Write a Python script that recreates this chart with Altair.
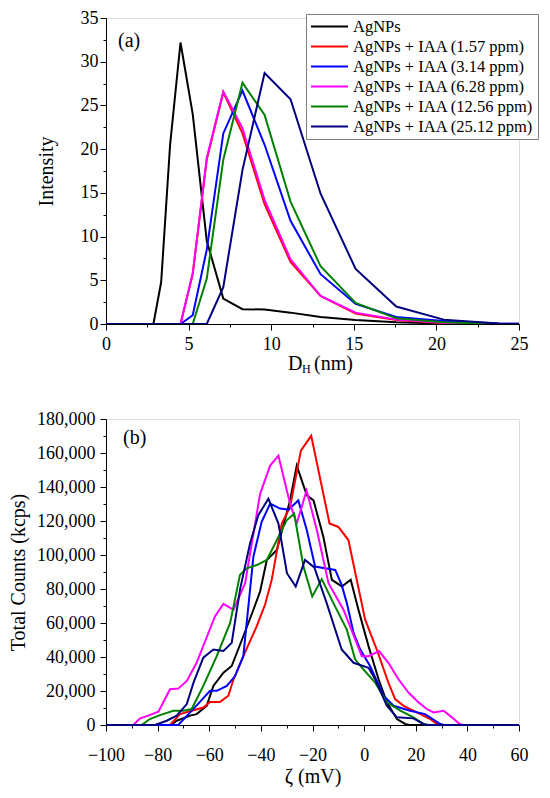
import altair as alt
import pandas as pd

FONT = "Liberation Serif"

series_names = [
    "AgNPs",
    "AgNPs + IAA (1.57 ppm)",
    "AgNPs + IAA (3.14 ppm)",
    "AgNPs + IAA (6.28 ppm)",
    "AgNPs + IAA (12.56 ppm)",
    "AgNPs + IAA (25.12 ppm)",
]
series_colors = ["#000000", "#FF0000", "#0000FF", "#FF00FF", "#008000", "#000080"]

# ---------- (a) size distribution ----------
dh_nm = [0, 2.87, 3.34, 3.88, 4.51, 5.25, 6.10, 7.10, 8.26, 9.60, 11.17, 12.99, 15.11, 17.57, 20.44, 23.77, 27.65]
int_agnps = [0, 0, 4.8, 20.5, 32.2, 24.0, 9.5, 2.9, 1.7, 1.65, 1.3, 0.8, 0.45, 0.2, 0.05, 0, 0]
int_157 = [0, 0, 0, 0, 0, 5.7, 18.8, 26.5, 21.8, 13.7, 7.1, 3.2, 1.2, 0.45, 0.1, 0, 0]
int_314 = [0, 0, 0, 0, 0, 1.0, 8.5, 21.8, 26.7, 20.5, 11.8, 5.7, 2.3, 0.8, 0.35, 0.05, 0]
int_628 = [0, 0, 0, 0, 0, 5.8, 19.0, 26.6, 22.4, 14.2, 7.4, 3.2, 1.3, 0.5, 0.15, 0, 0]
int_1256 = [0, 0, 0, 0, 0, 0, 5.2, 18.8, 27.6, 23.9, 14.0, 6.6, 2.4, 0.65, 0.2, 0, 0]
int_2512 = [0, 0, 0, 0, 0, 0, 0, 4.2, 17.6, 28.7, 25.7, 14.9, 6.3, 2.0, 0.5, 0.05, 0]

# ---------- (b) zeta potential distribution ----------
z_agnps_x = [-100, -75, -72.6, -67.4, -64.9, -61, -58.4, -54.5, -51.3, -46.8, -42.9, -40.3, -37.7, -33.8, -28.7,
             -26.1, -22.2, -19.6, -15.8, -12.5, -8.6, -5.2, -2.2, 1.7, 5.6, 8.8, 12.7, 15.9, 17.5, 60]
z_agnps_y = [0, 0, 2500, 5500, 6400, 11300, 23000, 30800, 34700, 52200, 67800, 78500, 97000, 102900, 132100,
             152600, 135100, 132100, 110700, 85400, 81500, 85400, 67800, 46400, 26900, 13300, 3500, 600, 0, 0]

z_157_x = [-100, -75.2, -71.3, -66.8, -62.3, -59.7, -55.8, -52.6, -50.6, -46.8, -41.6, -38.4, -35.8, -31.9, -28.7,
           -24.5, -20.5, -13.4, -10.0, -6.1, 0.4, 4.9, 9.4, 12.0, 15.3, 20.4, 25.6, 28.2, 30, 60]
z_157_y = [0, 0, 6400, 8400, 10300, 13600, 13600, 17200, 26900, 40500, 58100, 70700, 85400, 118500, 128200,
           161400, 170100, 118500, 116500, 108800, 62000, 44400, 24900, 15200, 11300, 7400, 3500, 600, 0, 0]

z_314_x = [-100, -72, -67.4, -63.6, -59.7, -57.1, -53.2, -50, -46.8, -42.9, -39.7, -36.4, -32.6, -29.3, -25.5,
           -22.2, -19, -11.2, -8.7, -6.7, -4.1, -1.5, 2.3, 7.5, 11.4, 17.8, 23.6, 29.5, 31, 60]
z_314_y = [0, 0, 7400, 13600, 20100, 20100, 23000, 28800, 40500, 99000, 119500, 130200, 127300, 126700, 132100,
           114600, 93200, 91200, 82400, 71700, 54200, 44400, 34700, 17200, 11300, 8400, 6400, 600, 0, 0]

z_628_x = [-100, -89.4, -86.8, -83.6, -79.7, -75.2, -72, -68.7, -64.9, -57.8, -54.5, -50.6, -46.1, -40.3, -36.4,
           -33.2, -28.7, -26.1, -22.3, -18.3, -13.8, -8, -0.9, 1.7, 5.8, 9.4, 13.3, 17.2, 21.1, 24.3,
           26.9, 30.8, 34, 37, 38.5, 60]
z_628_y = [0, 0, 3900, 5500, 7800, 21000, 21400, 25900, 36600, 63900, 71300, 67800, 83400, 136000, 152600,
           158400, 130200, 118500, 138000, 114600, 83400, 67800, 40500, 40500, 43500, 36600, 26900, 19100, 13300, 9400,
           7400, 8400, 4500, 600, 0, 0]

z_1256_x = [-100, -86.2, -83, -79.1, -73.9, -70, -66.8, -62.3, -57.1, -51.9, -48.1, -45.5, -41.6, -37.7, -33.8,
            -30, -27.1, -23.5, -20.1, -16.4, -11.9, -6.7, -3.5, -0.3, 4.3, 8.8, 14, 19.1, 23, 25, 60]
z_1256_y = [0, 0, 3500, 5800, 8400, 8400, 9400, 23000, 40500, 60000, 88300, 92200, 94100, 97100, 108800,
            120400, 124300, 93200, 75600, 85800, 71700, 56100, 38600, 32700, 24900, 13300, 8400, 4500, 600, 0, 0]

z_2512_x = [-100, -81, -76.5, -72.6, -68.7, -66.1, -62.3, -58.4, -54.5, -51.3, -48.1, -44.2, -41, -37.1, -33.2,
            -29.9, -26.5, -22.9, -19.3, -14.5, -8.7, -4.1, 1.7, 4.3, 8.8, 12.7, 19.1, 23, 24.5, 60]
z_2512_y = [0, 0, 2500, 5500, 12300, 24900, 39600, 44400, 43500, 48300, 79500, 106800, 123400, 133100, 118500,
            89300, 81500, 97100, 92700, 71700, 44400, 36600, 33700, 26900, 11300, 4500, 3900, 600, 0, 0]

# tick values
a_x_ticks = [0, 2.5, 5, 7.5, 10, 12.5, 15, 17.5, 20, 22.5, 25]
a_y_ticks = [0, 2.5, 5, 7.5, 10, 12.5, 15, 17.5, 20, 22.5, 25, 27.5, 30, 32.5, 35]
b_x_ticks = [-100, -90, -80, -70, -60, -50, -40, -30, -20, -10, 0, 10, 20, 30, 40, 50, 60]
b_y_ticks = [0, 10000, 20000, 30000, 40000, 50000, 60000, 70000, 80000, 90000, 100000,
             110000, 120000, 130000, 140000, 150000, 160000, 170000, 180000]


def long_table(items):
    rows = []
    for k, (name, xs, ys) in enumerate(items):
        for x, y in zip(xs, ys):
            rows.append({"series": name, "x": x, "y": y, "k": k})
    return pd.DataFrame(rows)


df_a = long_table([
    (series_names[0], dh_nm, int_agnps),
    (series_names[1], dh_nm, int_157),
    (series_names[2], dh_nm, int_314),
    (series_names[3], dh_nm, int_628),
    (series_names[4], dh_nm, int_1256),
    (series_names[5], dh_nm, int_2512),
])
df_b = long_table([
    (series_names[0], z_agnps_x, z_agnps_y),
    (series_names[1], z_157_x, z_157_y),
    (series_names[2], z_314_x, z_314_y),
    (series_names[3], z_628_x, z_628_y),
    (series_names[4], z_1256_x, z_1256_y),
    (series_names[5], z_2512_x, z_2512_y),
])

W, H = 413, 306
color_scale = alt.Scale(domain=series_names, range=series_colors)


def tick_size(test):
    return {"condition": {"test": test, "value": 6}, "value": 3}


def axis(values, test, label_padding, title=None, title_padding=0, fmt=None):
    kw = dict(
        values=values,
        labelExpr=f"{test} ? datum.label : ''",
        tickSize=tick_size(test),
        tickColor="black",
        tickWidth=1,
        domainColor="black",
        domainWidth=1,
        labelColor="black",
        labelFont=FONT,
        labelFontSize=18,
        labelPadding=label_padding,
        labelOverlap=False,
        labelFlush=False,
        grid=False,
        titleFont=FONT,
        titleFontSize=20,
        titleFontWeight="normal",
        titleColor="black",
        titlePadding=title_padding,
    )
    if fmt:
        kw["format"] = fmt
    kw["title"] = title
    return alt.Axis(**kw)


legend = alt.Legend(
    title=None,
    orient="none",
    offset=0,
    legendX=200,
    legendY=-4,
    symbolType="stroke",
    symbolSize=1369,
    symbolStrokeWidth=2,
    clipHeight=17,
    labelOffset=4,
    labelFont=FONT,
    labelFontSize=16.5,
    labelColor="black",
    labelLimit=0,
    strokeColor="#808080",
    fillColor="white",
    padding=4,
    rowPadding=3,
)

lines_a = alt.Chart(df_a).mark_line(strokeWidth=2, clip=True).encode(
    x=alt.X("x:Q", scale=alt.Scale(domain=[0, 25], nice=False),
            axis=axis(a_x_ticks, "datum.value % 5 === 0", 5)),
    y=alt.Y("y:Q", scale=alt.Scale(domain=[0, 35], nice=False),
            axis=axis(a_y_ticks, "datum.value % 5 === 0", 2, "Intensity", 24)),
    color=alt.Color("series:N", scale=color_scale, legend=legend),
    detail="k:O",
)

tag_a = alt.Chart(pd.DataFrame({"t": ["(a)"]})).mark_text(
    font=FONT, fontSize=20, align="left", baseline="middle", color="black"
).encode(text="t:N", x=alt.value(12), y=alt.value(23))

xt_text = ["D", "H", "(nm)"]
xt_px = [182, 196, 208]
xt_py = [H + 40, H + 45, H + 40]
xt_fs = [20, 12, 20]
xtitle_a = alt.layer(*[
    alt.Chart(pd.DataFrame({"t": [t]})).mark_text(
        font=FONT, fontSize=fs, align="left", baseline="middle", color="black"
    ).encode(text="t:N", x=alt.value(px), y=alt.value(py))
    for t, px, py, fs in zip(xt_text, xt_px, xt_py, xt_fs)
])

top = alt.layer(lines_a, tag_a, xtitle_a).properties(width=W, height=H)

lines_b = alt.Chart(df_b).mark_line(strokeWidth=2).encode(
    x=alt.X("x:Q", scale=alt.Scale(domain=[-100, 60], nice=False),
            axis=axis(b_x_ticks, "datum.value % 20 === 0", 15, "ζ (mV)", 2)),
    y=alt.Y("y:Q", scale=alt.Scale(domain=[0, 180000], nice=False),
            axis=axis(b_y_ticks, "datum.value % 20000 === 0", 5, "Total Counts (kcps)", 8, ",d")),
    color=alt.Color("series:N", scale=color_scale, legend=None),
    detail="k:O",
)

tag_b = alt.Chart(pd.DataFrame({"t": ["(b)"]})).mark_text(
    font=FONT, fontSize=20, align="left", baseline="middle", color="black"
).encode(text="t:N", x=alt.value(17), y=alt.value(19))

bottom = alt.layer(lines_b, tag_b).properties(width=W, height=H)

chart = alt.vconcat(top, bottom, spacing=33).resolve_scale(color="independent").configure_view(
    stroke=None
).configure(background="white").properties(padding=0)

chart.save("out.html", embed_options={"renderer": "svg", "actions": False})
